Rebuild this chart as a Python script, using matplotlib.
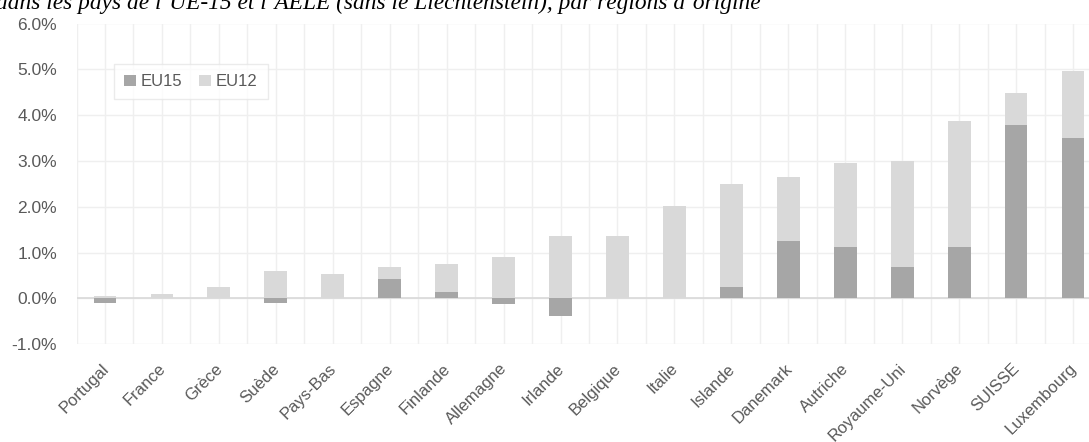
import matplotlib
matplotlib.use("Agg")
import matplotlib.pyplot as plt
import matplotlib.transforms as mtransforms
import numpy as np

countries = ["Portugal", "France", "Grèce", "Suède", "Pays-Bas", "Espagne",
             "Finlande", "Allemagne", "Irlande", "Belgique", "Italie", "Islande",
             "Danemark", "Autriche", "Royaume-Uni", "Norvège", "SUISSE", "Luxembourg"]
eu15 = [-0.10, 0.00, 0.00, -0.10, 0.00, 0.42, 0.15, -0.11, -0.39, 0.00, 0.00, 0.26,
        1.26, 1.13, 0.69, 1.13, 3.78, 3.50]
eu12 = [0.05, 0.10, 0.26, 0.60, 0.54, 0.26, 0.61, 0.90, 1.37, 1.36, 2.01, 2.24,
        1.38, 1.82, 2.30, 2.74, 0.71, 1.46]
yticks = [-1, 0, 1, 2, 3, 4, 5, 6]

plt.rcParams["font.family"] = ["Liberation Sans", "DejaVu Sans"]

fig = plt.figure(figsize=(10.89, 4.42), dpi=100)
ax = fig.add_axes([76.5 / 1089, 1 - 344.3 / 442, 1025 / 1089, (344.3 - 23.5) / 442])

x = np.arange(len(countries))
e15 = np.array(eu15)
e12 = np.array(eu12)
bottom12 = np.maximum(e15, 0)

grid_c = "#efefef"
# horizontal grid
for y in yticks:
    ax.axhline(y, color=grid_c, lw=1.0, zorder=0)
# vertical grid at category centres and boundaries
for v in np.arange(-0.5, len(countries), 0.5):
    ax.axvline(v, color=grid_c, lw=1.0, zorder=0)
ax.axhline(0, color="#d9d9d9", lw=1.2, zorder=1)

w = 0.4
ax.bar(x, e15, width=w, color="#a6a6a6", label="EU15", zorder=2)
ax.bar(x, e12, width=w, bottom=bottom12, color="#d9d9d9", label="EU12", zorder=2)

ax.set_xlim(-0.5, len(countries) - 0.5)
ax.set_ylim(-1, 6)
ax.set_yticks(yticks)
ax.set_yticklabels([f"{v:.1f}%" for v in yticks])
ax.set_xticks(x)
ax.set_xticklabels(countries, rotation=45, ha="right", rotation_mode="anchor")
ax.tick_params(axis="both", length=0, labelcolor="#595959")
ax.tick_params(axis="x", labelsize=12, pad=12)
ax.tick_params(axis="y", labelsize=12.5, pad=14)
shift = mtransforms.ScaledTranslation(-4 / 100, 0, fig.dpi_scale_trans)
for lab in ax.get_xticklabels():
    lab.set_transform(lab.get_transform() + shift)
for s in ax.spines.values():
    s.set_visible(False)

leg = ax.legend(loc="upper left", bbox_to_anchor=(106 / 1089, 1 - 56 / 442),
                bbox_transform=fig.transFigure, ncol=2, frameon=True,
                fancybox=False, fontsize=12, handlelength=0.7, handleheight=0.7,
                handletextpad=0.3, columnspacing=1.0, borderpad=0.6,
                labelcolor="#595959")
leg.get_frame().set_edgecolor("#e6e6e6")
leg.get_frame().set_linewidth(1.0)

fig.text(-4 / 1089, 1 - 8.5 / 442,
         "dans les pays de l’UE-15 et l’AELE (sans le Liechtenstein), par régions d’origine",
         family=["Liberation Serif", "DejaVu Serif"], style="italic", fontsize=16.8,
         color="black", ha="left", va="baseline")

fig.savefig("out.png", dpi=100)
